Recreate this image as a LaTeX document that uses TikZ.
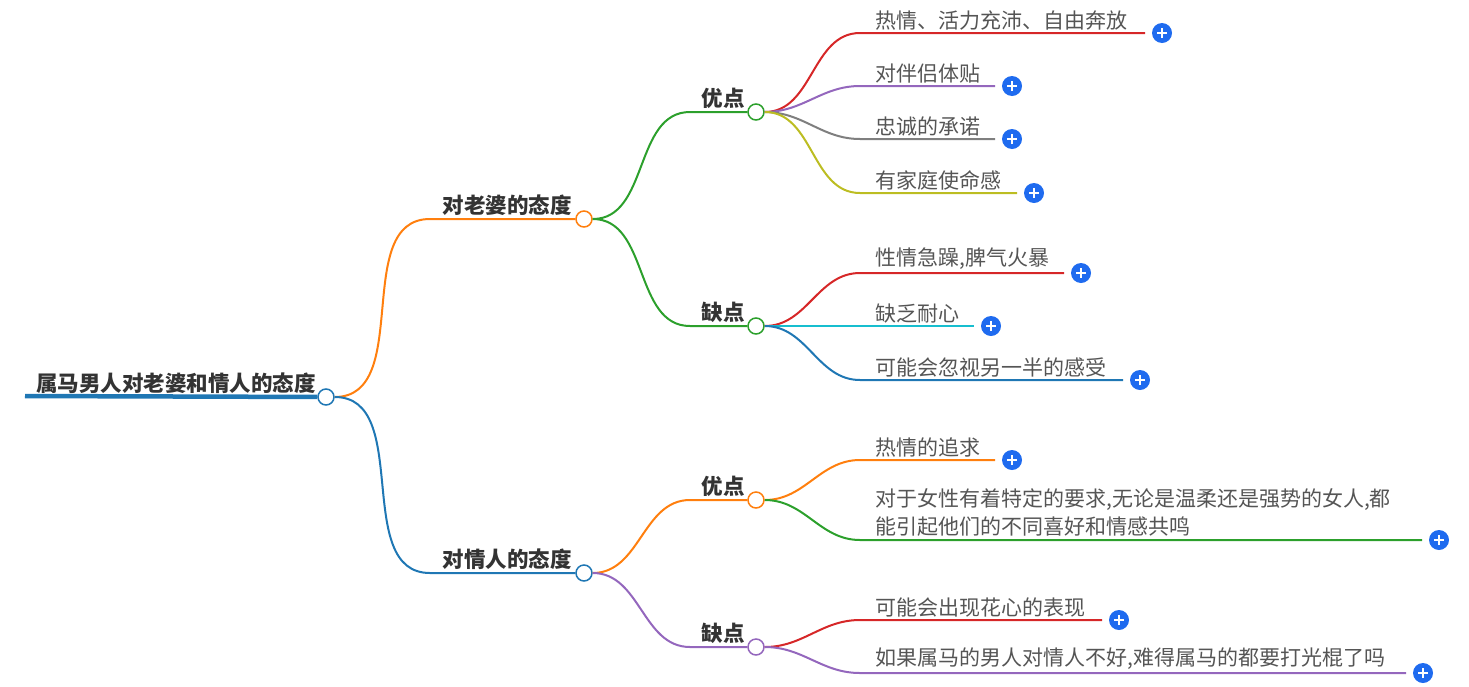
\documentclass[tikz,border=0pt]{standalone}
\usepackage{fontspec}
\setmainfont{Noto Sans CJK SC}
\usetikzlibrary{positioning}
\usepackage{xcolor}

\definecolor{tblue}{HTML}{1F77B4}
\definecolor{torange}{HTML}{FF7F0E}
\definecolor{tgreen}{HTML}{2CA02C}
\definecolor{tred}{HTML}{D62728}
\definecolor{tpurple}{HTML}{9467BD}
\definecolor{tgray}{HTML}{7F7F7F}
\definecolor{tolive}{HTML}{BCBD22}
\definecolor{tcyan}{HTML}{17BECF}
\definecolor{plusblue}{HTML}{1F6BEF}
\definecolor{textdark}{HTML}{333333}
\definecolor{textgray}{HTML}{555555}

\tikzset{
  hub/.style={circle, draw=#1, fill=white, line width=1.5pt, minimum size=16pt, inner sep=0pt},
  branch/.style={line width=2pt},
  topic/.style={font=\fontsize{21.5}{26}\selectfont\bfseries, text=textdark, inner sep=0pt},
  leaf/.style={font=\fontsize{21}{28}\selectfont, text=textgray, inner sep=0pt, align=left},
  plusbtn/.style={circle, fill=plusblue, minimum size=20pt, inner sep=0pt,
    path picture={
      \draw[white, line width=2pt]
        ([xshift=-5pt]path picture bounding box.center) -- ([xshift=5pt]path picture bounding box.center)
        ([yshift=-5pt]path picture bounding box.center) -- ([yshift=5pt]path picture bounding box.center);
    }}
}

\begin{document}
\begin{tikzpicture}[x=1pt, y=-1pt]
  \useasboundingbox (0,0) rectangle (1469,686);

  % root
  \coordinate (root-s) at (25,396);
  \node[hub=tblue] (root-c) at (326,397) {};
  \node[topic, anchor=south east] (root) at (316,394) {属马男人对老婆和情人的态度};
  \draw[tblue, line width=4.5pt] (root-s) -- (root-c);

  % first level
  \node[hub=torange] (wife-c) at (584,219) {};
  \node[topic, anchor=south east] (wife) at (572,216) {对老婆的态度};
  \node[hub=tblue] (lover-c) at (584,573) {};
  \node[topic, anchor=south east] (lover) at (572,570) {对情人的态度};
  \coordinate (wife-s) at (430,219);
  \coordinate (lover-s) at (430,573);
  \draw[branch, torange] (root-c.east) to[out=0, in=180] (wife-s) -- (wife-c);
  \draw[branch, tblue] (root-c.east) to[out=0, in=180] (lover-s) -- (lover-c);

  % second level
  \foreach \up/\name/\y/\col/\txt in {wife/wp/112/tgreen/优点, wife/wc/326/tgreen/缺点,
      lover/lp/500/torange/优点, lover/lc/647/tpurple/缺点} {
    \node[hub=\col] (\name-c) at (756,\y) {};
    \node[topic, anchor=south east] (\name) at (745,\y-3) {\txt};
    \coordinate (\name-s) at (690,\y);
    \draw[branch, \col] (\up-c.east) to[out=0, in=180] (\name-s) -- (\name-c);
  }

  % leaves
  \foreach \up/\name/\y/\px/\col/\txt in {
      wp/a1/33/1162/tred/热情、活力充沛、自由奔放,
      wp/a2/86/1012/tpurple/对伴侣体贴,
      wp/a3/139/1012/tgray/忠诚的承诺,
      wp/a4/193/1034/tolive/有家庭使命感,
      wc/b1/273/1081/tred/{性情急躁,脾气火暴},
      wc/b2/326/991/tcyan/缺乏耐心,
      wc/b3/380/1140/tblue/可能会忽视另一半的感受,
      lp/c1/460/1012/torange/热情的追求,
      lp/c2/540/1439/tgreen/{对于女性有着特定的要求,无论是温柔还是强势的女人,都\\能引起他们的不同喜好和情感共鸣},
      lc/d1/620/1119/tred/可能会出现花心的表现,
      lc/d2/673/1423/tpurple/{如果属马的男人对情人不好,难得属马的都要打光棍了吗}} {
    \coordinate (\name-s) at (860,\y);
    \coordinate (\name-e) at (\px-17,\y);
    \node[leaf, anchor=south west] (\name) at (875,\y-3) {\txt};
    \node[plusbtn] (\name-p) at (\px,\y) {};
    \draw[branch, \col] (\up-c.east) to[out=0, in=180] (\name-s) -- (\name-e);
  }
\end{tikzpicture}
\end{document}
